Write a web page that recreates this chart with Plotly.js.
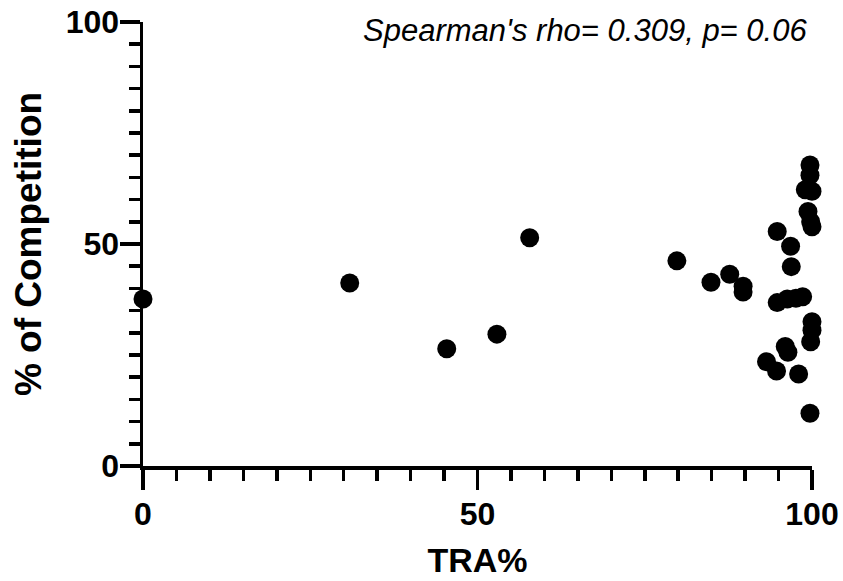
<!DOCTYPE html>
<html>
<head>
<meta charset="utf-8">
<script src="https://cdn.plot.ly/plotly-3.0.1.min.js"></script>
<style>html,body{margin:0;padding:0;background:#fff;}#chart{width:843px;height:581px;}</style>
</head>
<body>
<div id="chart"></div>
<script>
// TRA% (x) and % of Competition (y)
const traPct = [0, 30.9, 45.4, 52.9, 57.8, 79.8, 84.9, 87.7, 89.7, 89.7,
  99.7, 99.7, 99.0, 100, 99.4, 99.8, 100, 94.8, 96.8, 96.9,
  94.8, 96.3, 97.6, 98.6, 100, 100, 99.8, 96.0, 96.4, 93.2,
  94.7, 98.0, 99.7];
const competitionPct = [37.6, 41.2, 26.4, 29.7, 51.4, 46.2, 41.4, 43.2, 40.5, 39.2,
  67.8, 65.5, 62.2, 61.9, 57.3, 55.0, 53.9, 52.8, 49.5, 44.9,
  36.8, 37.6, 37.8, 38.1, 32.5, 30.6, 28.0, 26.9, 25.6, 23.5,
  21.4, 20.7, 11.9];
const xTicks = [0, 50, 100];
const yTicks = [0, 50, 100];
const statText = "Spearman's rho= 0.309, p= 0.06";

const font = 'Liberation Sans, Arial, sans-serif';
const trace = {
  x: traPct, y: competitionPct, type: 'scatter', mode: 'markers',
  marker: {color: '#000', size: 19},
  cliponaxis: false, hoverinfo: 'none'
};
const axisCommon = {
  showgrid: false, zeroline: false, showline: true, linecolor: '#000', linewidth: 3.5,
  ticks: 'outside', ticklen: 20, tickwidth: 3.5, tickcolor: '#000',
  tickfont: {family: font, size: 32, color: '#000', weight: 'bold'},
  minor: {dtick: 5, ticks: 'outside', ticklen: 11, tickwidth: 3.5, tickcolor: '#000'}
};
const layout = {
  width: 843, height: 581,
  margin: {l: 143, r: 31, t: 22, b: 115},
  paper_bgcolor: '#fff', plot_bgcolor: '#fff',
  showlegend: false,
  xaxis: Object.assign({}, axisCommon, {
    range: [0, 100], tickvals: xTicks, ticktext: xTicks.map(String),
    ticklabelstandoff: -3,
    title: {text: 'TRA%', font: {family: font, size: 34, color: '#000', weight: 'bold'}, standoff: 18}
  }),
  yaxis: Object.assign({}, axisCommon, {
    range: [0, 100], tickvals: yTicks, ticktext: yTicks.map(String),
    ticklabelstandoff: -6,
    title: {text: '% of Competition', font: {family: font, size: 37, color: '#000', weight: 'bold'}, standoff: 14}
  }),
  annotations: [{
    text: statText, xref: 'paper', yref: 'paper', x: 0.995, y: 1.0,
    xanchor: 'right', yanchor: 'middle', yshift: -8, showarrow: false,
    font: {family: font, size: 31, color: '#000', style: 'italic'}
  }]
};
Plotly.newPlot('chart', [trace], layout, {displayModeBar: false, staticPlot: true});
</script>
</body>
</html>
